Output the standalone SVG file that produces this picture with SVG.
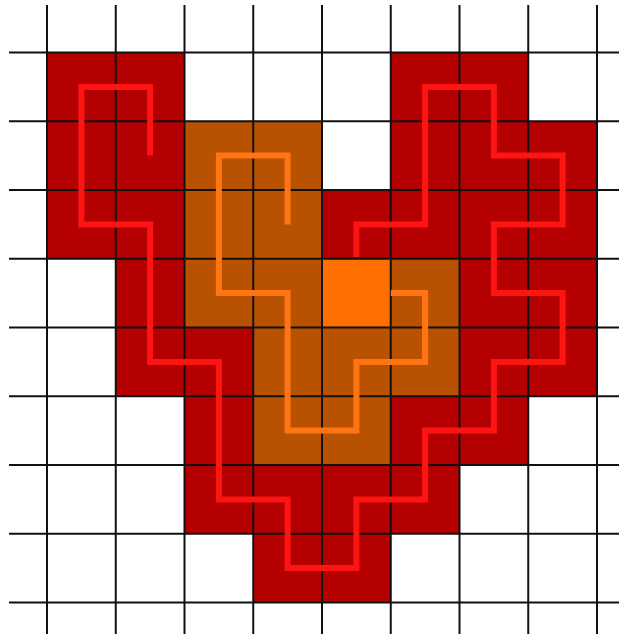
<svg xmlns="http://www.w3.org/2000/svg" width="619" height="634" viewBox="0 0 619 634">
<style>
.r{fill:#b40000}
.b{fill:#b85200}
.o{fill:#ff6e00}
.grid line{stroke:#111;stroke-width:2}
.pr{fill:none;stroke:#ff1414;stroke-width:6;stroke-linejoin:miter;stroke-linecap:butt}
.po{fill:none;stroke:#ff7514;stroke-width:6;stroke-linejoin:miter;stroke-linecap:butt}
</style>
<rect width="619" height="634" fill="#fff"/>
<g id="cells">
<rect class="r" x="47" y="52.5" width="137.5" height="68.75"/>
<rect class="r" x="390.75" y="52.5" width="137.5" height="68.75"/>
<rect class="r" x="47" y="121.25" width="137.5" height="137.5"/>
<rect class="b" x="184.5" y="121.25" width="137.5" height="206.25"/>
<rect class="r" x="390.75" y="121.25" width="206.25" height="68.75"/>
<rect class="r" x="322" y="190" width="275" height="68.75"/>
<rect class="r" x="115.75" y="258.75" width="68.75" height="68.75"/>
<rect class="o" x="322" y="258.75" width="68.75" height="68.75"/>
<rect class="b" x="390.75" y="258.75" width="68.75" height="68.75"/>
<rect class="r" x="459.5" y="258.75" width="137.5" height="137.5"/>
<rect class="r" x="115.75" y="327.5" width="137.5" height="68.75"/>
<rect class="b" x="253.25" y="327.5" width="206.25" height="68.75"/>
<rect class="r" x="184.5" y="396.25" width="68.75" height="68.75"/>
<rect class="b" x="253.25" y="396.25" width="137.5" height="68.75"/>
<rect class="r" x="390.75" y="396.25" width="137.5" height="68.75"/>
<rect class="r" x="184.5" y="465" width="275" height="68.75"/>
<rect class="r" x="253.25" y="533.75" width="137.5" height="68.75"/>
</g>
<g id="grid" class="grid">
<line x1="47" y1="5" x2="47" y2="634"/>
<line x1="115.75" y1="5" x2="115.75" y2="634"/>
<line x1="184.5" y1="5" x2="184.5" y2="634"/>
<line x1="253.25" y1="5" x2="253.25" y2="634"/>
<line x1="322" y1="5" x2="322" y2="634"/>
<line x1="390.75" y1="5" x2="390.75" y2="634"/>
<line x1="459.5" y1="5" x2="459.5" y2="634"/>
<line x1="528.25" y1="5" x2="528.25" y2="634"/>
<line x1="597" y1="5" x2="597" y2="634"/>
<line x1="9" y1="52.5" x2="619" y2="52.5"/>
<line x1="9" y1="121.25" x2="619" y2="121.25"/>
<line x1="9" y1="190" x2="619" y2="190"/>
<line x1="9" y1="258.75" x2="619" y2="258.75"/>
<line x1="9" y1="327.5" x2="619" y2="327.5"/>
<line x1="9" y1="396.25" x2="619" y2="396.25"/>
<line x1="9" y1="465" x2="619" y2="465"/>
<line x1="9" y1="533.75" x2="619" y2="533.75"/>
<line x1="9" y1="602.5" x2="619" y2="602.5"/>
</g>
<g id="paths">
<polyline class="pr" points="150.1,155.6 150.1,86.9 81.4,86.9 81.4,224.4 150.1,224.4 150.1,361.9 218.9,361.9 218.9,499.4 287.6,499.4 287.6,568.1 356.4,568.1 356.4,499.4 425.1,499.4 425.1,430.6 493.9,430.6 493.9,361.9 562.6,361.9 562.6,293.1 493.9,293.1 493.9,224.4 562.6,224.4 562.6,155.6 493.9,155.6 493.9,86.9 425.1,86.9 425.1,224.4 356.4,224.4 356.4,257"/>
<polyline class="po" points="287.6,224.4 287.6,155.6 218.9,155.6 218.9,293.1 287.6,293.1 287.6,430.6 356.4,430.6 356.4,361.9 425.1,361.9 425.1,293.1 390.8,293.1"/>
</g>
</svg>
